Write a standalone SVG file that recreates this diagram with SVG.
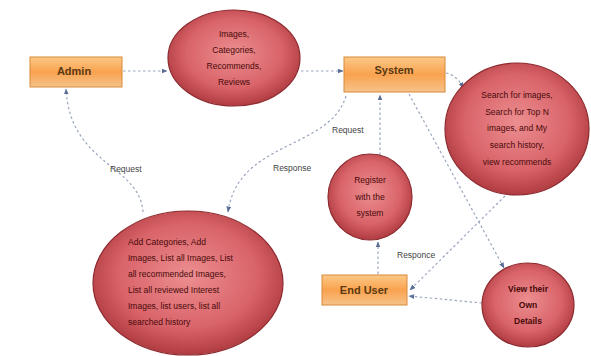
<svg xmlns="http://www.w3.org/2000/svg" width="591" height="356" viewBox="0 0 591 356">
<defs>
<radialGradient id="red" cx="50%" cy="45%" r="55%">
<stop offset="0" stop-color="#ec8e90"/>
<stop offset="0.65" stop-color="#d9646a"/>
<stop offset="1" stop-color="#b03c42"/>
</radialGradient>
<linearGradient id="orange" x1="0" y1="0" x2="0" y2="1">
<stop offset="0" stop-color="#fcc987"/>
<stop offset="0.5" stop-color="#f9a24f"/>
<stop offset="1" stop-color="#f6c38a"/>
</linearGradient>
<marker id="ah" viewBox="0 0 10 10" refX="9" refY="5" markerWidth="5" markerHeight="5" orient="auto">
<path d="M0,1 L10,5 L0,9 z" fill="#5a6d96"/>
</marker>
</defs>
<style>
.box{fill:url(#orange);stroke:#d88a3a;stroke-width:1}
.ell{fill:url(#red);stroke:#8c2a2f;stroke-width:1.2}
.bl{font-family:"Liberation Sans",Arial,sans-serif;font-size:11px;font-weight:bold;fill:#5b3a12;text-anchor:middle}
.et{font-family:"Liberation Sans",Arial,sans-serif;font-size:8.5px;fill:#4a0a0a;text-anchor:middle}
.el{font-family:"Liberation Sans",Arial,sans-serif;font-size:8.5px;fill:#4a0a0a}
.lbl{font-family:"Liberation Sans",Arial,sans-serif;font-size:8.5px;fill:#444}
.c{fill:none;stroke:#9aa6bf;stroke-width:1.2;stroke-dasharray:2.5,2.5;marker-end:url(#ah)}
</style>
<rect width="591" height="356" fill="#ffffff"/>
<g id="connectors">
<path class="c" d="M123,71 L167,71"/>
<path class="c" d="M301,71 L343,71"/>
<path class="c" d="M446,73 Q458,76 463,88"/>
<path class="c" d="M380,155 L380,95"/>
<path class="c" d="M378,274 L378,242"/>
<path class="c" d="M409,94 L504,268"/>
<path class="c" d="M482,303 L409,296"/>
<path class="c" d="M505,196 L410,290"/>
<path class="c" d="M143,212 C140,165 70,165 66,89"/>
<path class="c" d="M346,96 C330,150 238,140 228,212"/>
</g>
<g id="lbl-request1"><text class="lbl" x="110" y="172">Request</text></g>
<g id="lbl-response1"><text class="lbl" x="273" y="171">Response</text></g>
<g id="lbl-request2"><text class="lbl" x="332" y="133">Request</text></g>
<g id="lbl-responce"><text class="lbl" x="397" y="258">Responce</text></g>
<g id="admin">
<rect class="box" x="30" y="57" width="92" height="30"/>
<text class="bl" x="74" y="75">Admin</text>
</g>
<g id="system">
<rect class="box" x="344" y="57" width="101" height="35"/>
<text class="bl" x="394" y="74">System</text>
</g>
<g id="enduser">
<rect class="box" x="322" y="275" width="85" height="30"/>
<text class="bl" x="364" y="294">End User</text>
</g>
<g id="images">
<ellipse class="ell" cx="234" cy="58" rx="66" ry="48"/>
<text class="et" x="234" y="37">Images,</text>
<text class="et" x="234" y="53">Categories,</text>
<text class="et" x="234" y="69">Recommends,</text>
<text class="et" x="234" y="85">Reviews</text>
</g>
<g id="search">
<ellipse class="ell" cx="517" cy="129" rx="72" ry="66"/>
<text class="et" x="517" y="98">Search for images,</text>
<text class="et" x="517" y="115">Search for Top N</text>
<text class="et" x="517" y="131">images, and My</text>
<text class="et" x="517" y="148">search history,</text>
<text class="et" x="517" y="165">view recommends</text>
</g>
<g id="register">
<ellipse class="ell" cx="370" cy="197" rx="42" ry="43"/>
<text class="et" x="370" y="183">Register</text>
<text class="et" x="370" y="200">with the</text>
<text class="et" x="370" y="216">system</text>
</g>
<g id="view">
<ellipse class="ell" cx="528" cy="305" rx="46" ry="42"/>
<text class="et" x="528" y="292" font-weight="bold">View their</text>
<text class="et" x="528" y="308" font-weight="bold">Own</text>
<text class="et" x="528" y="324" font-weight="bold">Details</text>
</g>
<g id="admintasks">
<ellipse class="ell" cx="188" cy="283" rx="95" ry="72"/>
<text class="el" x="128" y="245">Add Categories, Add</text>
<text class="el" x="128" y="261">Images, List all Images, List</text>
<text class="el" x="128" y="277">all recommended Images,</text>
<text class="el" x="128" y="293">List all reviewed Interest</text>
<text class="el" x="128" y="309">Images, list users, list all</text>
<text class="el" x="128" y="325">searched history</text>
</g>
</svg>
